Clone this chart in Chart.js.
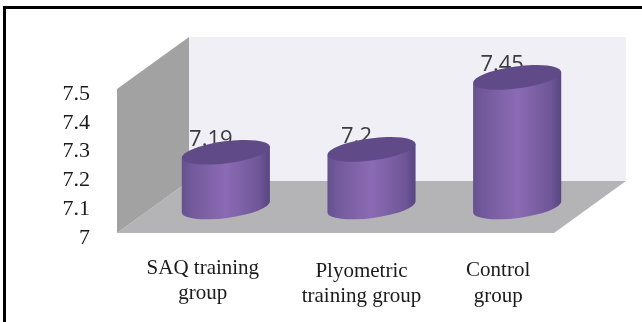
<!DOCTYPE html>
<html>
<head>
<meta charset="utf-8">
<script src="https://cdn.jsdelivr.net/npm/chart.js@4"></script>
<style>
  html, body { margin: 0; padding: 0; background: #fff; }
  #wrap { position: relative; width: 642px; height: 322px; overflow: hidden; }
  #frame { position: absolute; left: 3px; top: 6px; width: 700px; height: 400px; border: 3px solid #000; }
</style>
</head>
<body>
<div id="wrap">
  <canvas id="cylchart" width="642" height="322"></canvas>
  <div id="frame"></div>
</div>
<script>
const categories = [['SAQ training', 'group'], ['Plyometric', 'training group'], ['Control', 'group']]
const values = [7.19, 7.2, 7.45]
const yTickLabels = ['7', '7.1', '7.2', '7.3', '7.4', '7.5']

// caption offset from the slot centre, and baselines of its two lines
const captionShift = [13, 26, 17]
const captionLines = [[274, 299], [277, 302], [276, 302]]

const serif = '"Liberation Serif", serif'
const depthX = 72, depthY = 52, lift = 5

const room3d = {
    id: 'room3d',
    beforeDatasetsDraw(chart) {
        const { left, right, top, bottom } = chart.chartArea
        const c = chart.ctx
        const y0 = bottom - lift, y1 = top - lift
        const poly = (color, pts) => {
            c.fillStyle = color
            c.beginPath()
            pts.forEach((p, i) => i ? c.lineTo(p[0], p[1]) : c.moveTo(p[0], p[1]))
            c.closePath()
            c.fill()
        }
        c.save()
        // back wall, floor, side wall
        poly('#f1eff6', [[left + depthX, y1 - depthY], [right + depthX, y1 - depthY], [right + depthX, y0 - depthY], [left + depthX, y0 - depthY]])
        poly('#b4b3b5', [[left, y0], [left + depthX, y0 - depthY], [right + depthX, y0 - depthY], [right, y0]])
        poly('#a3a2a3', [[left, y1], [left + depthX, y1 - depthY], [left + depthX, y0 - depthY], [left, y0]])
        c.restore()
    },
    afterDatasetsDraw(chart) {
        const c = chart.ctx
        const bars = chart.getDatasetMeta(0).data
        const tilt = -0.13, ry = 11
        c.save()

        // value labels go first, the cylinder tops cover their lower edge
        c.font = '22px "Open Sans", sans-serif'
        c.fillStyle = '#3a3a40'
        c.textAlign = 'center'
        c.textBaseline = 'alphabetic'
        bars.forEach((bar, i) => {
            c.fillText(String(values[i]), bar.x + depthX / 2 - 15, bar.y - lift - depthY / 2 - 6)
        })

        bars.forEach(bar => {
            const x = bar.x + depthX / 2
            const rx = bar.width / 2
            const yTop = bar.y - lift - depthY / 2
            const yBase = bar.base - lift - depthY / 2
            const dx = rx * Math.cos(tilt), dy = rx * Math.sin(tilt)

            const side = c.createLinearGradient(x - dx, 0, x + dx, 0)
            side.addColorStop(0, '#65518f')
            side.addColorStop(0.12, '#735a9c')
            side.addColorStop(0.5, '#8b6bb4')
            side.addColorStop(0.88, '#6f5698')
            side.addColorStop(1, '#574580')
            c.fillStyle = side
            c.beginPath()
            c.ellipse(x, yBase, rx, ry, tilt, 0, Math.PI)
            c.lineTo(x - dx, yTop - dy)
            c.lineTo(x + dx, yTop + dy)
            c.closePath()
            c.fill()

            c.fillStyle = '#604b88'
            c.beginPath()
            c.ellipse(x, yTop, rx, ry, tilt, 0, Math.PI * 2)
            c.fill()
        })

        // category captions
        c.font = '21px ' + serif
        c.fillStyle = '#1a1a1a'
        const xs = chart.scales.x
        categories.forEach((lines, i) => {
            lines.forEach((line, j) => {
                c.fillText(line, xs.getPixelForTick(i) + captionShift[i], captionLines[i][j])
            })
        })
        c.restore()
    }
}

new Chart(document.getElementById('cylchart'), {
    type: 'bar',
    data: {
        labels: categories,
        datasets: [{
            data: values,
            base: 7,
            backgroundColor: 'rgba(0,0,0,0)',
            categoryPercentage: 1,
            barPercentage: 0.61
        }]
    },
    options: {
        responsive: false,
        animation: false,
        layout: { padding: { top: 94, right: 88 } },
        plugins: { legend: { display: false }, tooltip: { enabled: false } },
        scales: {
            x: {
                grid: { display: false },
                border: { display: false },
                ticks: { display: false },
                afterFit: s => { s.height = 84 }
            },
            y: {
                min: 7,
                max: 7.5,
                grid: { display: false, drawTicks: false },
                border: { display: false },
                ticks: {
                    stepSize: 0.1,
                    autoSkip: false,
                    padding: 27,
                    color: '#1a1a1a',
                    font: { family: serif, size: 22 },
                    callback: (v, i) => yTickLabels[i]
                },
                afterFit: s => { s.width = 117 }
            }
        }
    },
    plugins: [room3d]
})
</script>
</body>
</html>
